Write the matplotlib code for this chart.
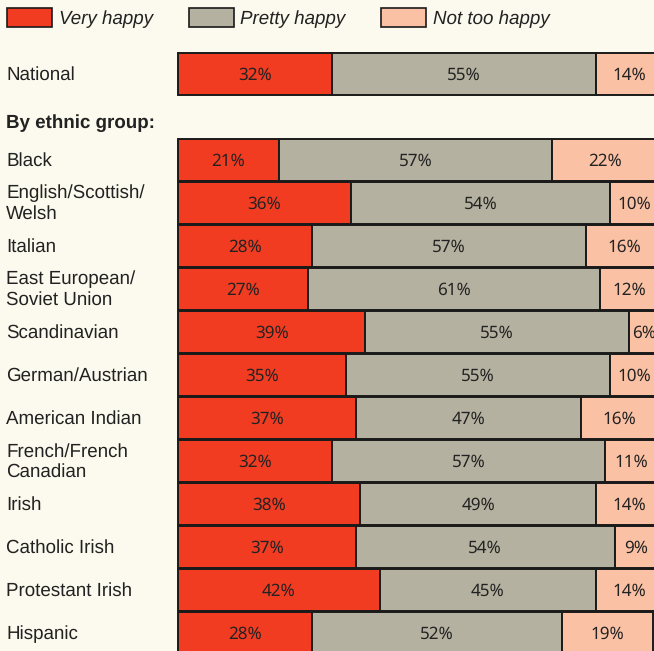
import numpy as np
import matplotlib.pyplot as plt
from matplotlib.patches import Patch
from matplotlib.transforms import blended_transform_factory

plt.rcParams['font.family'] = ['Liberation Sans', 'DejaVu Sans']
plt.rcParams['text.hinting'] = 'no_hinting'

groups = ["National", "Black", "English/Scottish/\nWelsh", "Italian",
          "East European/\nSoviet Union", "Scandinavian", "German/Austrian",
          "American Indian", "French/French\nCanadian", "Irish",
          "Catholic Irish", "Protestant Irish", "Hispanic"]
very_happy = [32, 21, 36, 28, 27, 39, 35, 37, 32, 38, 37, 42, 28]
pretty_happy = [55, 57, 54, 57, 61, 55, 55, 47, 57, 49, 54, 45, 52]
not_too_happy = [14, 22, 10, 16, 12, 6, 10, 16, 11, 14, 9, 14, 19]

series_names = ["Very happy", "Pretty happy", "Not too happy"]
colors = ["#f23c22", "#b4b1a0", "#fbc1a4"]
bg = "#fcfaee"
ink = "#222222"

# National sits two rows above the ethnic groups
rows = np.array([-2] + list(range(len(groups) - 1)))

fig = plt.figure(figsize=(6.54, 6.51), dpi=100, facecolor=bg)
ax = fig.add_axes([0, 0, 1, 1])
ax.set_facecolor(bg)

px_per_pct = 4.8
left_px = 178
ax.set_xlim(-left_px / px_per_pct, (654 - left_px) / px_per_pct)
ax.set_ylim((651 - 160) / 43, -160 / 43)
ax.axis("off")

data = [very_happy, pretty_happy, not_too_happy]
left = np.zeros(len(groups))
for vals, c in zip(data, colors):
    vals = np.array(vals)
    ax.barh(rows, vals, left=left, height=0.98, color=c,
            edgecolor="#1a1a1a", linewidth=1.4)
    for r, l, v in zip(rows, left, vals):
        ax.text(l + v / 2, r + 0.03, f"{v}%", ha="center", va="center",
                fontsize=12.3, color=ink, family=["Noto Sans", "DejaVu Sans"],
                clip_on=True)
    left += vals

tr = blended_transform_factory(ax.transAxes, ax.transData)
for r, name in zip(rows, groups):
    ax.text(6 / 654, r + 0.02, name, transform=tr, ha="left", va="center",
            fontsize=13.5, color=ink, linespacing=1.2)
ax.text(6 / 654, -0.86, "By ethnic group:", transform=tr, ha="left",
        va="center", fontsize=13.5, fontweight="bold", color=ink)

handles = [Patch(facecolor=c, edgecolor="#1a1a1a", linewidth=1.2) for c in colors]
fig.legend(handles, series_names, loc="upper left", bbox_to_anchor=(0.0, 1.0),
           ncol=3, frameon=False, handlelength=2.4, handleheight=1.25,
           handletextpad=0.35, columnspacing=1.9, borderaxespad=0.1,
           borderpad=0.3, prop={"size": 13.5, "style": "italic"},
           labelcolor=ink)

fig.savefig("out.png", dpi=100, facecolor=bg)
